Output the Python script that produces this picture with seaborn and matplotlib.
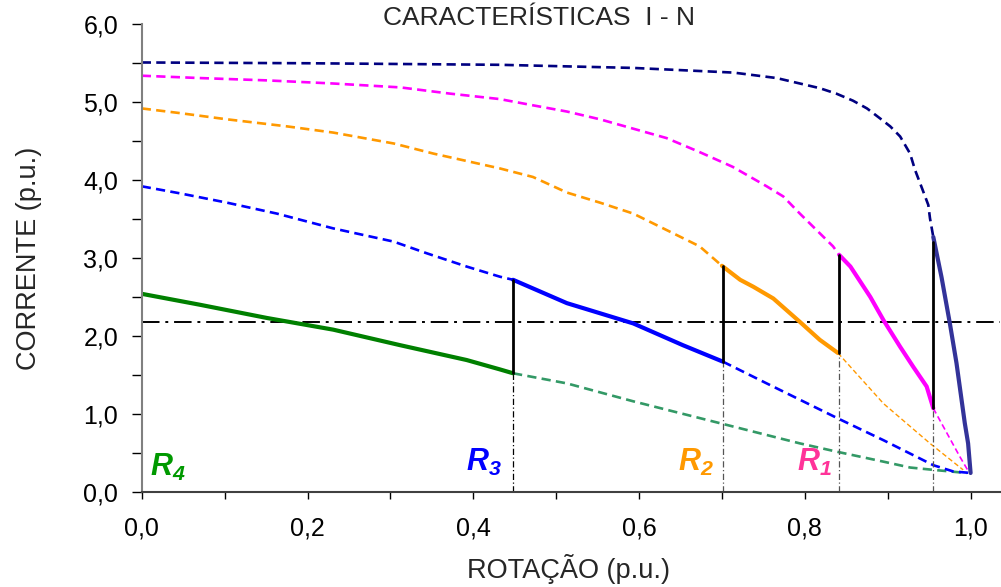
import matplotlib
matplotlib.use("Agg")
import matplotlib.pyplot as plt
import seaborn as sns
import numpy as np

# ---------------- data ----------------
r0_dot_x = [0, 0.2, 0.432, 0.593, 0.714, 0.766, 0.790, 0.818, 0.838, 0.858, 0.875, 0.891, 0.903,
            0.915, 0.927, 0.933, 0.943, 0.949, 0.951, 0.955]
r0_dot_y = [5.51, 5.50, 5.48, 5.44, 5.38, 5.31, 5.25, 5.18, 5.11, 5.02, 4.92, 4.79, 4.69,
            4.56, 4.34, 4.13, 3.85, 3.68, 3.51, 3.27]
r0_sol_x = [0.955, 0.965, 0.975, 0.983, 0.993, 0.997, 1.0]
r0_sol_y = [3.27, 2.75, 2.16, 1.65, 0.88, 0.62, 0.24]

r1_dot_x = [0, 0.070, 0.151, 0.231, 0.312, 0.372, 0.432, 0.472, 0.513, 0.553, 0.593, 0.633,
            0.673, 0.713, 0.754, 0.774, 0.794, 0.814, 0.834, 0.8415]
r1_dot_y = [5.34, 5.31, 5.28, 5.24, 5.19, 5.11, 5.04, 4.96, 4.88, 4.78, 4.66, 4.54,
            4.36, 4.17, 3.92, 3.79, 3.57, 3.36, 3.15, 3.04]
r1_sol_x = [0.8415, 0.855, 0.879, 0.895, 0.915, 0.931, 0.947, 0.955]
r1_sol_y = [3.04, 2.89, 2.50, 2.20, 1.86, 1.60, 1.35, 1.07]
r1_tail_x = [0.955, 0.987, 0.998]
r1_tail_y = [1.07, 0.45, 0.25]

r2_dot_x = [0, 0.046, 0.103, 0.175, 0.231, 0.304, 0.352, 0.432, 0.472, 0.513, 0.553, 0.593,
            0.633, 0.673, 0.70]
r2_dot_y = [4.92, 4.86, 4.78, 4.69, 4.61, 4.47, 4.34, 4.15, 4.04, 3.84, 3.71, 3.57,
            3.36, 3.15, 2.90]
r2_sol_x = [0.70, 0.722, 0.738, 0.762, 0.794, 0.818, 0.840]
r2_sol_y = [2.90, 2.72, 2.63, 2.48, 2.18, 1.95, 1.78]
r2_tail_x = [0.840, 0.895, 0.951, 0.991]
r2_tail_y = [1.78, 1.13, 0.62, 0.28]

r3_dot_x = [0, 0.046, 0.103, 0.163, 0.231, 0.304, 0.344, 0.392, 0.432, 0.448]
r3_dot_y = [3.92, 3.83, 3.71, 3.57, 3.38, 3.21, 3.06, 2.89, 2.76, 2.72]
r3_sol_x = [0.448, 0.513, 0.593, 0.653, 0.701]
r3_sol_y = [2.72, 2.42, 2.16, 1.88, 1.67]
r3_tail_x = [0.701, 0.754, 0.840, 0.895, 0.955, 0.979, 1.0]
r3_tail_y = [1.67, 1.39, 0.94, 0.66, 0.34, 0.26, 0.24]

r4_sol_x = [0, 0.070, 0.151, 0.231, 0.312, 0.392, 0.432, 0.448]
r4_sol_y = [2.54, 2.40, 2.23, 2.08, 1.88, 1.69, 1.57, 1.52]
r4_tail_x = [0.448, 0.513, 0.593, 0.701, 0.794, 0.840, 0.895, 0.927, 0.955, 0.995]
r4_tail_y = [1.52, 1.39, 1.16, 0.87, 0.62, 0.51, 0.385, 0.31, 0.28, 0.24]

switch_x = [0.448, 0.701, 0.8415, 0.955]
switch_low = [1.52, 1.67, 1.78, 1.07]
switch_high = [2.72, 2.90, 3.04, 3.20]

nominal_current = 2.18

labels = ["R_4", "R_3", "R_2", "R_1"]
label_x = [0.010, 0.391, 0.647, 0.790]
label_y = [0.20, 0.27, 0.27, 0.27]
label_colors = ["#009900", "#0000FF", "#FF9900", "#FF3399"]

x_ticks = [0.0, 0.2, 0.4, 0.6, 0.8, 1.0]
x_ticklabels = ["0,0", "0,2", "0,4", "0,6", "0,8", "1,0"]
y_ticks = [0, 1, 2, 3, 4, 5, 6]
y_ticklabels = ["0,0", "1,0", "2,0", "3,0", "4,0", "5,0", "6,0"]

# ---------------- style ----------------
sns.set_style("ticks")
plt.rcParams["font.family"] = ["Liberation Sans", "DejaVu Sans"]
plt.rcParams["mathtext.fontset"] = "custom"
plt.rcParams["mathtext.rm"] = "Liberation Sans:bold:italic"
plt.rcParams["mathtext.it"] = "Liberation Sans:bold:italic"
plt.rcParams["mathtext.bf"] = "Liberation Sans:bold:italic"

fig = plt.figure(figsize=(10.01, 5.87), dpi=100)
ax = fig.add_axes([0.1416, 0.1624, 0.857, 0.7962])

DOT = (0, (3.5, 2.0))
LW_DOT = 1.9


def seg(x, y, color, lw, ls="-"):
    sns.lineplot(x=x, y=y, ax=ax, color=color, linewidth=lw, linestyle=ls,
                 estimator=None, sort=False, legend=False)


seg(r4_tail_x, r4_tail_y, "#339966", LW_DOT, DOT)
seg(r3_dot_x, r3_dot_y, "#0000FF", LW_DOT, DOT)
seg(r3_tail_x, r3_tail_y, "#0000FF", LW_DOT, DOT)
seg(r2_dot_x, r2_dot_y, "#FF9900", LW_DOT, DOT)
seg(r2_tail_x, r2_tail_y, "#FF9900", 1.0, DOT)
seg(r1_dot_x, r1_dot_y, "#FF00FF", LW_DOT, DOT)
seg(r1_tail_x, r1_tail_y, "#FF00FF", 1.2, DOT)
seg(r0_dot_x, r0_dot_y, "#000080", LW_DOT, DOT)

ax.axhline(nominal_current, color="black", linewidth=1.4,
           linestyle=(0, (9, 3, 1.5, 3)), zorder=2)

for i, (sx, lo) in enumerate(zip(switch_x, switch_low)):
    c = "black" if i == 0 else "#555555"
    seg([sx, sx], [0, lo], c, 0.9, (0, (5, 2, 1, 2)))

seg(r4_sol_x, r4_sol_y, "#008000", 3.0)
seg(r3_sol_x, r3_sol_y, "#0000FF", 3.0)
seg(r2_sol_x, r2_sol_y, "#FF9900", 3.0)
seg(r1_sol_x, r1_sol_y, "#FF00FF", 3.0)
seg(r0_sol_x, r0_sol_y, "#333399", 3.0)

for sx, lo, hi in zip(switch_x, switch_low, switch_high):
    seg([sx, sx], [lo, hi], "black", 2.0)

for lab, lx, ly, lc in zip(labels, label_x, label_y, label_colors):
    ax.text(lx, ly, "$" + lab + "$", color=lc, fontsize=22,
            ha="left", va="baseline")

ax.set_xlim(0, 1.035)
ax.set_ylim(0, 6)
ax.set_xticks(x_ticks, labels=x_ticklabels)
ax.set_xticks(np.arange(0.1, 1.01, 0.2), minor=True)
ax.set_yticks(y_ticks, labels=y_ticklabels)
ax.set_yticks(np.arange(0.5, 6.0, 1.0), minor=True)
ax.tick_params(axis="both", which="both", direction="out", colors="black",
               width=1.0, labelsize=18)
ax.tick_params(axis="y", which="both", length=7, pad=10)
ax.tick_params(axis="x", which="both", length=5, pad=13)

sns.despine(ax=ax)
ax.spines["left"].set_color("#808080")
ax.spines["left"].set_linewidth(1.5)
ax.spines["bottom"].set_color("#404040")
ax.spines["bottom"].set_linewidth(1.5)

ax.set_xlabel("ROTAÇÃO (p.u.)", fontsize=19.5)
ax.set_ylabel("CORRENTE (p.u.)", fontsize=19.5)
ax.yaxis.set_label_coords(-0.116, 0.5)
ax.xaxis.set_label_coords(0.497, -0.1847)
ax.xaxis.label.set_va("baseline")

fig.text(539 / 1001, 1 - 25 / 587, "CARACTERÍSTICAS  I - N", fontsize=19,
         ha="center", va="baseline")

fig.savefig("out.png", dpi=100)
